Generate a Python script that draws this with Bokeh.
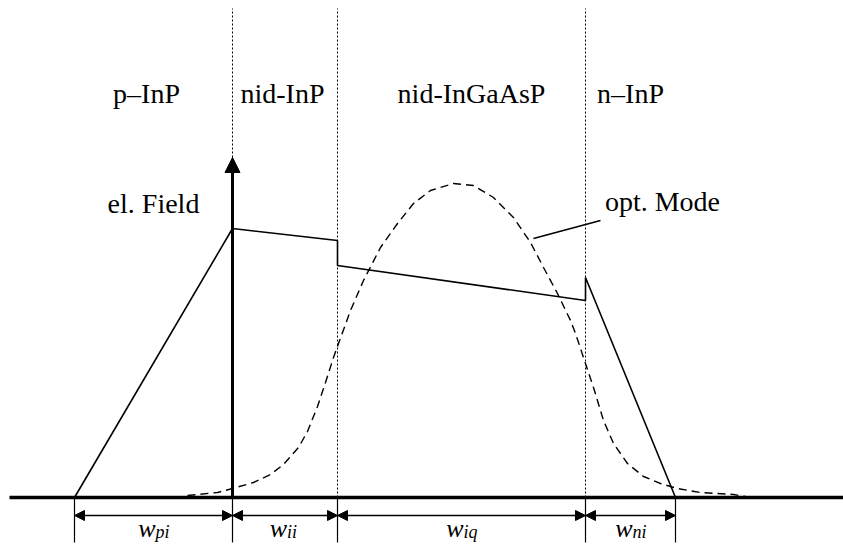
from bokeh.plotting import figure
from bokeh.models import Range1d, Arrow, NormalHead, ColumnDataSource
from bokeh.core.properties import value
from bokeh.embed import file_html
from bokeh.resources import INLINE

# ---- data (chart units: x = position across the layers, y = amplitude) ----
boundaries = [74, 232, 337, 585, 675]          # layer edges of the depletion region
interfaces = [232, 337, 585]                   # hetero-interfaces (dotted)
layer_names = ["p–InP", "nid-InP", "nid-InGaAsP", "n–InP"]
layer_label_x = [146, 282, 471, 630]

field_x = [74, 232, 337, 337, 585, 585, 675]
field_y = [0, 269, 257, 232, 197, 220, 0]

mode_x = [187, 217, 232, 253, 270, 283, 298, 307, 317, 325, 333, 338, 350, 363, 380,
          397, 413, 430, 453, 473, 493, 513, 530, 543, 557, 570, 575, 585, 593, 603,
          613, 627, 643, 660, 677, 700, 733, 745]
mode_y = [2, 5, 9, 15, 23, 33, 50, 66, 91, 115, 140, 154, 187, 217, 250,
          274, 294, 307, 314, 312, 300, 280, 255, 230, 204, 177, 164, 134, 110, 77,
          54, 34, 21, 14, 9, 5, 3, 1]

axis_top = 340
width_main = ["w", "w", "w", "w"]
width_subs = ["pi", "ii", "iq", "ni"]

annot_text = ["el. Field", "opt. Mode"]
annot_x = [153, 662]
annot_y = [294, 296]
leader_x = [533, 600]
leader_y = [259, 277]

# ---- figure ----
p = figure(width=843, height=551, x_range=Range1d(0, 843), y_range=Range1d(-54, 497),
           x_axis_type=None, y_axis_type=None, output_backend="svg",
           toolbar_location=None, min_border=0)
p.grid.visible = False
p.outline_line_color = None
p.background_fill_color = "white"
p.border_fill_color = "white"

# dotted interface lines
p.segment(x0=interfaces, y0=[0] * 3, x1=interfaces, y1=[489] * 3,
          line_color="black", line_width=1, line_dash="2 2")

# baseline
p.segment(x0=[9], y0=[0], x1=[843], y1=[0], line_color="black", line_width=3.5)

# tick lines below baseline
p.segment(x0=boundaries, y0=[0] * 5, x1=boundaries, y1=[-45] * 5,
          line_color="black", line_width=1.2)

# optical mode
p.line(mode_x, mode_y, line_color="black", line_width=1.4, line_dash="8 5")

# electric field
p.line(field_x, field_y, line_color="black", line_width=1.6)

# vertical axis arrow
p.add_layout(Arrow(end=NormalHead(size=15, fill_color="black", line_color="black"),
                   x_start=boundaries[1], y_start=0, x_end=boundaries[1], y_end=axis_top,
                   line_color="black", line_width=3))

# dimension arrows
dim = ColumnDataSource(dict(x0=boundaries[:-1], x1=boundaries[1:], y=[-18] * 4))
p.add_layout(Arrow(start=NormalHead(size=10, fill_color="black", line_color="black"),
                   end=NormalHead(size=10, fill_color="black", line_color="black"),
                   x_start="x0", y_start="y", x_end="x1", y_end="y", source=dim,
                   line_color="black", line_width=1.5))

# width labels
mids = [(a + b) / 2 for a, b in zip(boundaries[:-1], boundaries[1:])]
p.text(x=mids, y=[-31] * 4, text=width_main, text_font=value("Liberation Serif"),
       text_font_style="italic", text_font_size="26px", text_align="right",
       text_baseline="alphabetic", text_color="black", x_offset=2)
p.text(x=mids, y=[-31] * 4, text=width_subs, text_font=value("Liberation Serif"),
       text_font_style="italic", text_font_size="18px", text_align="left",
       text_baseline="alphabetic", text_color="black", x_offset=2, y_offset=3)

# layer names
p.text(x=layer_label_x, y=[404] * 4, text=layer_names, text_font=value("Liberation Serif"),
       text_font_size="28px", text_align="center", text_baseline="alphabetic",
       text_color="black")

# annotations
p.text(x=annot_x, y=annot_y, text=annot_text, text_font=value("Liberation Serif"),
       text_font_size="28px", text_align="center", text_baseline="alphabetic",
       text_color="black")
p.line(leader_x, leader_y, line_color="black", line_width=1.5)

open("out.html", "w").write(file_html(p, INLINE))
